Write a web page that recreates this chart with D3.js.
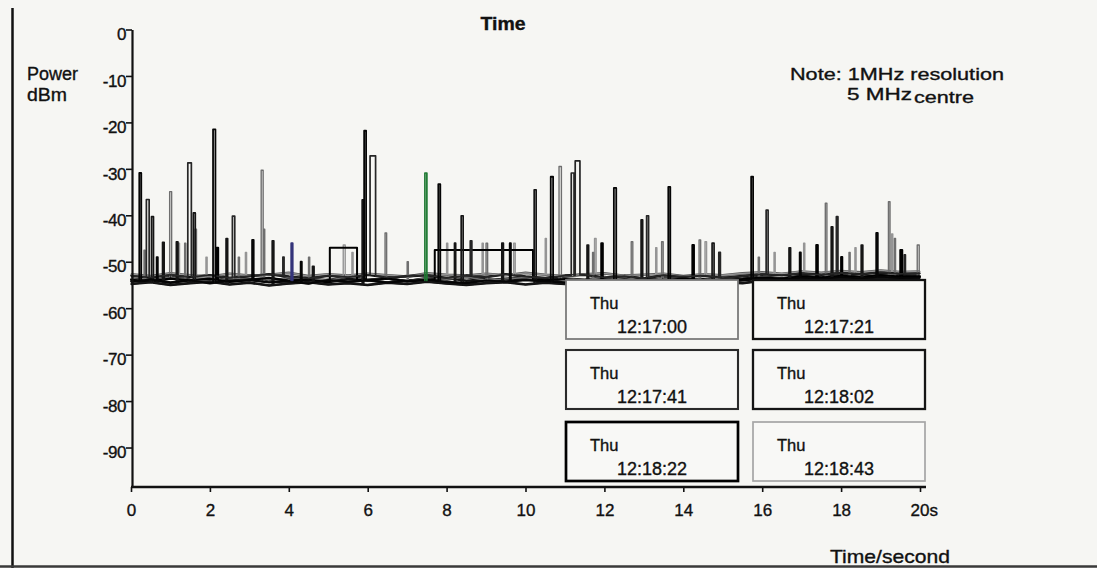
<!DOCTYPE html>
<html>
<head>
<meta charset="utf-8">
<script src="https://cdn.jsdelivr.net/npm/d3@7"></script>
<style>
  html, body { margin: 0; padding: 0; background: #f6f6f3; }
  svg { display: block; }
  text { font-family: "Liberation Sans", Arial, sans-serif; fill: #111; stroke: #111; stroke-width: 0.35px; }
</style>
</head>
<body>
<svg id="chart" width="1097" height="568"></svg>
<script>
// Spectrum-monitor power traces, six successive 20 s sweeps.
const sweepDay = "Thu";
const sweepStarts = ["12:17:00", "12:17:21", "12:17:41", "12:18:02", "12:18:22", "12:18:43"];

const xTicks = [0, 2, 4, 6, 8, 10, 12, 14, 16, 18, 20];
const yTicks = [0, -10, -20, -30, -40, -50, -60, -70, -80, -90];

// Noise floor of each sweep, sampled every half second from 0 to 20 s (dBm)
const floorTimes = d3.range(0, 20.01, 0.5);
const floor1 = [-53.6,-54.1,-53.3,-53.9,-54.2,-53.5,-53.8,-54.3,-53.4,-53.7,-54.0,-53.2,-53.9,-53.6,-54.2,-53.5,-53.8,-53.3,-54.0,-53.7,-53.4,-54.1,-53.6,-53.9,-53.3,-53.8,-54.2,-53.5,-53.7,-54.0,-53.4,-53.8,-53.2,-53.6,-53.1,-53.5,-52.9,-53.4,-53.0,-53.3,-53.1];
const floor2 = [-54.3,-53.8,-54.5,-54.0,-54.6,-54.1,-53.9,-54.4,-54.2,-54.7,-53.9,-54.3,-54.0,-54.5,-54.1,-53.8,-54.4,-54.6,-54.0,-54.3,-53.9,-54.2,-54.5,-54.0,-54.4,-53.9,-54.1,-54.6,-54.2,-53.8,-54.3,-54.0,-53.6,-53.9,-53.4,-53.7,-53.3,-53.6,-53.2,-53.5,-53.4];
const floor3 = [-53.0,-53.4,-52.8,-53.3,-52.9,-53.5,-53.1,-52.7,-53.2,-53.6,-53.0,-53.3,-52.8,-53.4,-53.1,-52.9,-53.5,-53.0,-53.3,-52.7,-53.2,-53.5,-53.0,-52.8,-53.4,-53.1,-53.6,-52.9,-53.2,-53.0,-53.5,-53.1,-52.7,-52.9,-52.5,-52.8,-52.4,-52.7,-52.3,-52.6,-52.5];
const floor4 = [-54.8,-54.4,-55.0,-54.6,-54.3,-54.9,-54.5,-55.1,-54.7,-54.4,-54.9,-54.6,-55.0,-54.5,-54.8,-54.3,-54.7,-55.0,-54.6,-54.4,-54.9,-54.5,-54.8,-55.1,-54.6,-54.3,-54.7,-54.9,-54.5,-54.8,-54.4,-54.6,-54.1,-54.3,-53.8,-54.1,-53.7,-54.0,-53.6,-53.9,-53.8];
const floor5 = [-53.9,-54.2,-53.6,-54.0,-53.7,-54.3,-53.9,-53.5,-54.1,-53.8,-54.4,-53.7,-54.0,-53.6,-54.2,-53.9,-53.5,-54.1,-53.8,-54.3,-53.6,-54.0,-53.7,-54.2,-53.9,-54.4,-53.8,-54.0,-53.6,-54.1,-53.9,-53.7,-53.4,-53.6,-53.1,-53.4,-53.0,-53.3,-52.9,-53.2,-53.1];
const floor6 = [-52.7,-53.1,-52.5,-52.9,-53.2,-52.6,-53.0,-52.8,-52.4,-53.1,-52.7,-53.0,-52.6,-52.9,-53.2,-52.5,-52.8,-53.0,-52.6,-52.9,-52.4,-52.8,-53.1,-52.7,-52.5,-53.0,-52.8,-52.6,-53.1,-52.7,-52.9,-52.5,-52.3,-52.6,-52.1,-52.4,-52.0,-52.3,-51.9,-52.2,-52.1];

// Bursts in each sweep: [start s, end s, power dBm]
const bursts1 = [[0.33,0.36,-47.5],[0.98,1.03,-34.9],[1.36,1.39,-46],[1.62,1.66,-43],[2.72,2.75,-49],[3.30,3.35,-30.3],[3.36,3.39,-43],[4.50,4.53,-49],[6.44,6.48,-43.8],[7.00,7.03,-50],[9.00,9.04,-46],[10.85,10.91,-29.5],[11.70,11.73,-48],[12.68,12.72,-45.7],[13.45,13.49,-45.7],[14.40,14.44,-45.3],[15.90,15.93,-49],[17.60,17.64,-37.4],[18.20,18.23,-48],[19.20,19.24,-37.1],[19.35,19.38,-45],[19.93,19.98,-46.4]];
const bursts2 = [[0.21,0.26,-30.9],[0.65,0.68,-49],[2.08,2.14,-21.5],[3.07,3.11,-45.3],[4.30,4.33,-50],[5.91,5.96,-21.8],[7.79,7.84,-33.3],[9.60,9.63,-46],[10.64,10.70,-31.7],[12.24,12.30,-34.1],[13.62,13.67,-33.9],[15.72,15.77,-31.7],[16.95,16.98,-48],[18.89,18.93,-43.8]];
const bursts3 = [[0.39,0.46,-36.6],[1.44,1.53,-28.7],[2.57,2.63,-40.2],[3.85,3.88,-49],[6.06,6.20,-27.2],[8.60,8.64,-45.5],[11.16,11.23,-30.9],[11.26,11.38,-28.3],[13.07,13.12,-40.1],[14.90,14.94,-48],[16.10,16.15,-38.9],[17.88,17.92,-40.3],[19.60,19.63,-48.5]];
const bursts4 = [[0.52,0.57,-40.3],[0.80,0.84,-45.8],[1.15,1.19,-45.7],[1.58,1.63,-39.5],[2.41,2.45,-45],[3.58,3.62,-45.5],[4.60,4.64,-51],[5.86,5.90,-36.7],[8.20,8.23,-46],[8.37,8.42,-40.1],[9.40,9.44,-46],[10.22,10.27,-34.5],[11.56,11.60,-46.4],[12.93,12.97,-41],[14.73,14.78,-46],[16.68,16.72,-47],[17.75,17.79,-42.5],[18.51,18.55,-46.4]];
const bursts5 = [[2.17,2.21,-47],[5.04,5.73,-47],[7.70,10.19,-47.5],[11.92,11.96,-46],[14.23,14.27,-46.4],[17.37,17.41,-46.4],[18.00,18.03,-49],[19.50,19.55,-47.5]];
const bursts6 = [[1.20,1.23,-46],[1.90,1.93,-49],[2.90,2.93,-48],[5.38,5.43,-46.4],[5.60,5.63,-48],[8.00,8.03,-46],[8.90,8.93,-46],[9.70,9.74,-46],[10.50,10.53,-45],[11.75,11.79,-45],[13.30,13.33,-47],[14.55,14.59,-45.7],[16.30,16.33,-48],[17.05,17.08,-46],[18.35,18.38,-47],[19.28,19.31,-44]];

// Two single bursts plotted in colour, rising from the common floor
const markerFloor = -54;
const markerBurstsGreen = [[7.45,7.50,-30.9]];
const markerBurstsBlue = [[4.06,4.10,-46]];

const floors = [floor1, floor2, floor3, floor4, floor5, floor6];
const bursts = [bursts1, bursts2, bursts3, bursts4, bursts5, bursts6];

// Trace and legend styling per sweep
const traceStyle = [
  { stroke: "#6f6f6f", width: 1.4, box: "#7a7a7a", boxW: 1.8, text: "#3a3a3a" },
  { stroke: "#050505", width: 1.8, box: "#111",    boxW: 2.3, text: "#111" },
  { stroke: "#262626", width: 1.7, box: "#2a2a2a", boxW: 2.1, text: "#111" },
  { stroke: "#151515", width: 1.7, box: "#151515", boxW: 2.3, text: "#111" },
  { stroke: "#000",    width: 2.0, box: "#000",    boxW: 2.7, text: "#0a0a0a" },
  { stroke: "#959595", width: 1.4, box: "#a5a5a5", boxW: 1.7, text: "#9a9a9a" }
];
const drawOrder = [5, 0, 4, 3, 2, 1];

const svg = d3.select("#chart");
const x = d3.scaleLinear().domain([0, 20]).range([131, 920]);
const y = d3.scaleLinear().domain([-98.5, 0]).range([487, 29.5]);

// Frame lines of the printed figure
svg.append("line").attr("x1", 12.5).attr("x2", 12.5).attr("y1", 8).attr("y2", 568)
  .attr("stroke", "#111").attr("stroke-width", 2.5);
svg.append("line").attr("x1", 0).attr("x2", 1097).attr("y1", 566.5).attr("y2", 566.5)
  .attr("stroke", "#3a3a3a").attr("stroke-width", 2.5);

// Build a trace: floor samples with rectangular bursts spliced in
function tracePoints(floorVals, pulseList) {
  const floorAt = d3.scaleLinear().domain(floorTimes).range(floorVals);
  const pts = [];
  floorTimes.forEach((t, i) => {
    if (!pulseList.some(p => t >= p[0] && t <= p[1])) pts.push([t, floorVals[i]]);
  });
  pulseList.forEach(p => {
    pts.push([p[0], floorAt(p[0])], [p[0], p[2]], [p[1], p[2]], [p[1], floorAt(p[1])]);
  });
  pts.sort((a, b) => a[0] - b[0]);
  return pts;
}

const line = d3.line().x(d => x(d[0])).y(d => y(d[1]));

// Heavy noise-floor band: the floors of all sweeps drawn thick underneath
const floorBand = svg.append("g").attr("fill", "none").attr("stroke-linejoin", "round");
drawOrder.forEach(i => {
  floorBand.append("path")
    .attr("d", line(floorTimes.map((t, k) => [t, floors[i][k]])))
    .attr("stroke", i === 5 ? "#555" : "#111")
    .attr("stroke-width", 2.6);
});

const traces = svg.append("g").attr("fill", "none")
  .attr("stroke-linejoin", "round").attr("stroke-linecap", "round");

drawOrder.forEach(i => {
  traces.append("path")
    .attr("d", line(tracePoints(floors[i], bursts[i])))
    .attr("stroke", traceStyle[i].stroke)
    .attr("stroke-width", traceStyle[i].width);
});

[[markerBurstsBlue, "#34347a"], [markerBurstsGreen, "#1f7a33"]].forEach(([list, col]) => {
  list.forEach(p => {
    traces.append("path")
      .attr("d", line([[p[0], markerFloor], [p[0], p[2]], [p[1], p[2]], [p[1], markerFloor]]))
      .attr("stroke", col).attr("stroke-width", 1.7);
  });
});

// Y axis
const yAxis = svg.append("g").attr("transform", "translate(132,0)")
  .call(d3.axisLeft(y).tickValues(yTicks).tickFormat(d => String(d))
    .tickSize(6).tickSizeOuter(0).tickPadding(0));
yAxis.select(".domain").attr("stroke", "#111").attr("stroke-width", 2.2);
yAxis.selectAll(".tick line").attr("stroke", "#111").attr("stroke-width", 1.6);
yAxis.selectAll(".tick text").attr("font-size", 17).attr("dy", "0.6em")
  .attr("letter-spacing", "-0.4px").attr("fill", "#111").attr("font-family", null);

// X axis
const xAxis = svg.append("g").attr("transform", "translate(0,487)")
  .call(d3.axisBottom(x).tickValues(xTicks)
    .tickFormat(d => d === 20 ? "20s" : String(d))
    .tickSize(5).tickSizeOuter(0).tickPadding(12));
xAxis.select(".domain").attr("d", `M${x(0)},0H926`).attr("stroke", "#111").attr("stroke-width", 2.4);
xAxis.selectAll(".tick line").attr("stroke", "#111").attr("stroke-width", 1.6);
xAxis.selectAll(".tick text").attr("font-size", 17).attr("fill", "#111").attr("font-family", null);
xAxis.selectAll(".tick text").filter(d => d === 20).attr("text-anchor", "start").attr("x", -10);

// Titles and annotation
svg.append("text").attr("x", 503).attr("y", 30).attr("text-anchor", "middle")
  .attr("font-size", 18).attr("font-weight", "bold").attr("textLength", 45)
  .attr("lengthAdjust", "spacingAndGlyphs").text("Time");
const yTitle = svg.append("text").attr("font-size", 18);
yTitle.append("tspan").attr("x", 27).attr("y", 80)
  .attr("textLength", 51).attr("lengthAdjust", "spacingAndGlyphs").text("Power");
yTitle.append("tspan").attr("x", 27).attr("y", 101)
  .attr("textLength", 40).attr("lengthAdjust", "spacingAndGlyphs").text("dBm");

svg.append("text").attr("x", 790).attr("y", 80).attr("font-size", 17)
  .attr("textLength", 214).attr("lengthAdjust", "spacingAndGlyphs").text("Note: 1MHz resolution");
const note2 = svg.append("text").attr("font-size", 17);
note2.append("tspan").attr("x", 847).attr("y", 100)
  .attr("textLength", 65).attr("lengthAdjust", "spacingAndGlyphs").text("5 MHz");
note2.append("tspan").attr("x", 914).attr("y", 103)
  .attr("textLength", 60).attr("lengthAdjust", "spacingAndGlyphs").text("centre");

svg.append("text").attr("x", 830).attr("y", 563).attr("font-size", 19)
  .attr("textLength", 120).attr("lengthAdjust", "spacingAndGlyphs").text("Time/second");

// Legend: one framed box per sweep, two columns by three rows
const boxX = [566, 753], boxY = [280, 350, 422], boxW = 172, boxH = 59;
const legend = svg.append("g");
sweepStarts.forEach((s, i) => {
  const g = legend.append("g")
    .attr("transform", `translate(${boxX[i % 2]},${boxY[Math.floor(i / 2)]})`);
  g.append("rect").attr("width", boxW).attr("height", boxH)
    .attr("fill", "#f8f8f6").attr("stroke", traceStyle[i].box)
    .attr("stroke-width", traceStyle[i].boxW);
  g.append("text").attr("x", 24).attr("y", 29).attr("font-size", 16.5)
    .attr("fill", traceStyle[i].text).attr("stroke", traceStyle[i].text).text(sweepDay);
  g.append("text").attr("x", 51).attr("y", 53).attr("font-size", 18)
    .attr("fill", traceStyle[i].text).attr("stroke", traceStyle[i].text).text(s);
});
</script>
</body>
</html>
